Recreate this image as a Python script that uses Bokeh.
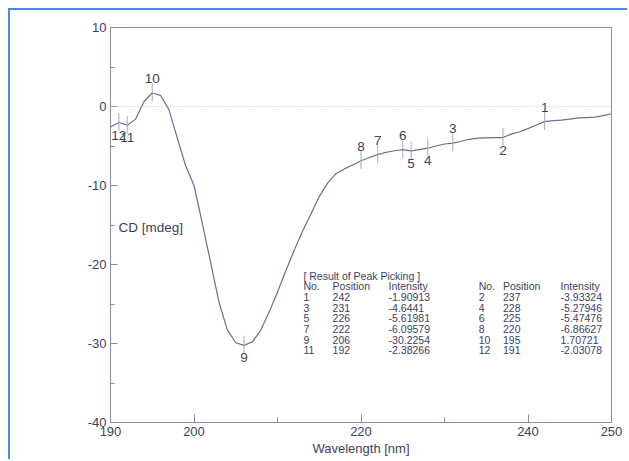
from bokeh.plotting import figure
from bokeh.models import FixedTicker, Span, Label, ColumnDataSource, Range1d
from bokeh.core.properties import value
from bokeh.embed import file_html
from bokeh.resources import INLINE

# ---- data ----
wavelength = list(range(190, 251))
cd = [-2.6, -2.03, -2.38, -1.6, 0.6, 1.71, 1.4, -0.4, -4.0, -7.5,
      -10.0, -14.8, -19.8, -24.8, -28.3, -29.9, -30.23, -29.8, -28.3, -26.0,
      -23.5, -20.8, -18.2, -15.8, -13.6, -11.4, -9.7, -8.5, -7.9, -7.4,
      -6.87, -6.45, -6.1, -5.8, -5.6, -5.47, -5.62, -5.45, -5.28, -5.0,
      -4.75, -4.64, -4.4, -4.15, -4.0, -3.97, -3.95, -3.93, -3.5, -3.2,
      -2.8, -2.35, -1.91, -1.8, -1.72, -1.6, -1.45, -1.4, -1.35, -1.15, -0.92]

peak_no = [1, 2, 3, 4, 5, 6, 7, 8, 9, 10, 11, 12]
peak_pos = [242, 237, 231, 228, 226, 225, 222, 220, 206, 195, 192, 191]
peak_int = ["-1.90913", "-3.93324", "-4.6441", "-5.27946", "-5.61981", "-5.47476",
            "-6.09579", "-6.86627", "-30.2254", "1.70721", "-2.38266", "-2.03078"]
peak_above = [True, False, True, False, False, True, True, True, False, True, False, False]

x_ticks = [190, 200, 220, 240, 250]
x_minor = [210, 230]
y_ticks = [-40, -30, -20, -10, 0, 10]

TXT = "#3e3e5e"
CURVE = "#6c6c92"
AXC = "#8a8aa8"
FONT = "Liberation Sans"

p = figure(width=619, height=451, output_backend="svg", toolbar_location=None,
           x_range=Range1d(190, 250), y_range=Range1d(-40, 10),
           min_border_left=100, min_border_right=18, min_border_top=17, min_border_bottom=39)
p.styles = {"margin-left": "8px", "margin-top": "8px",
            "border-left": "2px solid #4a88d8", "border-top": "2px solid #4a88d8"}
p.grid.visible = False
p.outline_line_color = AXC
p.outline_line_width = 1
p.background_fill_color = "white"
p.border_fill_color = "white"

# axes
p.xaxis.ticker = FixedTicker(ticks=x_ticks, minor_ticks=x_minor)
p.yaxis.ticker = FixedTicker(ticks=y_ticks, minor_ticks=[-35, -25, -15, -5, 5])
p.xaxis.major_label_overrides = {t: str(t) for t in x_ticks}
p.yaxis.major_label_overrides = {t: str(t) for t in y_ticks}
for ax in (p.xaxis[0], p.yaxis[0]):
    ax.axis_line_color = AXC
    ax.major_tick_line_color = AXC
    ax.minor_tick_line_color = AXC
    ax.major_label_text_font = FONT
    ax.major_label_text_font_size = "13px"
    ax.major_label_text_color = TXT
    ax.axis_label_text_font = FONT
    ax.axis_label_text_font_style = "normal"
    ax.axis_label_text_color = TXT
p.xaxis.major_tick_in = 8
p.xaxis.major_tick_out = 0
p.xaxis.minor_tick_in = 5
p.xaxis.minor_tick_out = 0
p.yaxis.major_tick_in = 7
p.yaxis.major_tick_out = 0
p.yaxis.minor_tick_in = 4
p.yaxis.minor_tick_out = 0
p.xaxis.major_label_standoff = 4
p.yaxis.major_label_standoff = 4
p.xaxis.axis_label = "Wavelength [nm]"
p.xaxis.axis_label_text_font_size = "13px"
p.xaxis.axis_label_standoff = 2

p.add_layout(Label(x=8, x_units="screen", y=-15.3, text="CD [mdeg]",
                   text_font=FONT, text_font_size="13.5px", text_color=TXT,
                   text_baseline="middle"))

# zero line
p.add_layout(Span(location=0, dimension="width", line_color="#c4c4cc",
                  line_dash="1 2", line_width=1))

# curve
p.line(wavelength, cd, line_color=CURVE, line_width=1.2)

# peak markers
pk_val = [float(v) for v in peak_int]
src = ColumnDataSource(dict(x=peak_pos, y=pk_val, lab=[str(n) for n in peak_no],
                            y0=[v - 1.05 for v in pk_val], y1=[v + 1.2 for v in pk_val]))
p.segment(x0="x", x1="x", y0="y0", y1="y1", source=src, line_color="#a8a8bc", line_width=1)

up = ColumnDataSource(dict(x=[x for x, a in zip(peak_pos, peak_above) if a],
                           y=[y for y, a in zip(pk_val, peak_above) if a],
                           lab=[str(n) for n, a in zip(peak_no, peak_above) if a]))
dn = ColumnDataSource(dict(x=[x for x, a in zip(peak_pos, peak_above) if not a],
                           y=[y for y, a in zip(pk_val, peak_above) if not a],
                           lab=[str(n) for n, a in zip(peak_no, peak_above) if not a]))
p.text(x="x", y="y", text="lab", source=up, text_align="center", text_baseline="bottom",
       y_offset=-10, text_font=value(FONT), text_font_size="13.5px", text_color=TXT)
p.text(x="x", y="y", text="lab", source=dn, text_align="center", text_baseline="top",
       y_offset=8, text_font=value(FONT), text_font_size="13.5px", text_color=TXT)

# peak table
tf = "10.5px"
col_x = [213.1, 216.6, 223.3, 234.1, 237.0, 243.9]
row_y0 = -21.4
row_dy = 1.355
p.add_layout(Label(x=col_x[0], y=row_y0, text="[ Result of Peak Picking ]", text_font=FONT,
                   text_font_size=tf, text_color=TXT, text_baseline="middle"))
headers = ["No.", "Position", "Intensity"] * 2
for cx, h in zip(col_x, headers):
    p.add_layout(Label(x=cx, y=row_y0 - row_dy, text=h, text_font=FONT,
                       text_font_size=tf, text_color=TXT, text_baseline="middle"))
for i in range(12):
    r = i // 2
    c = (i % 2) * 3
    yy = row_y0 - row_dy * (r + 2)
    for k, t in enumerate([str(peak_no[i]), str(peak_pos[i]), peak_int[i]]):
        p.add_layout(Label(x=col_x[c + k], y=yy, text=t, text_font=FONT,
                           text_font_size=tf, text_color=TXT, text_baseline="middle"))

open("out.html", "w").write(file_html(p, INLINE))
